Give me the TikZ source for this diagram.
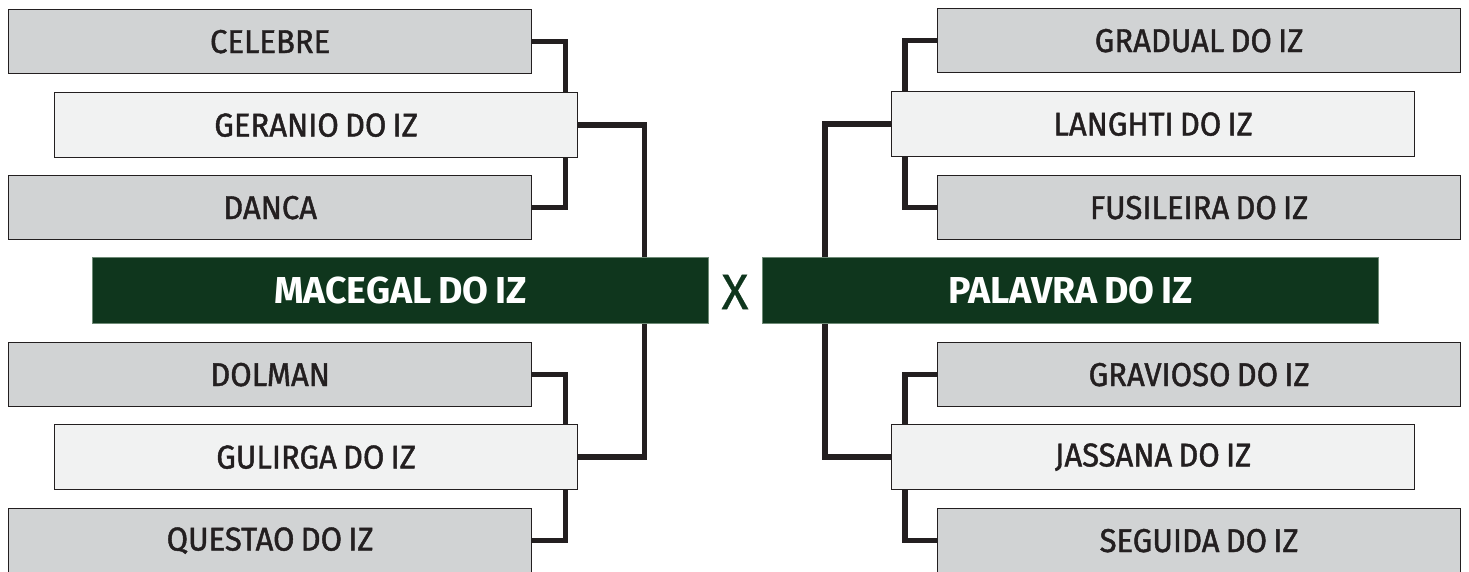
\documentclass[tikz,border=0pt]{standalone}
\usepackage{fontspec}
\setmainfont{Fira Sans}
\newfontfamily\labelfont{Fira Sans}[FakeBold=1.3, FakeStretch=0.94, WordSpace=0.75]
\newfontfamily\versusfont{Fira Sans}[FakeBold=0.6]
\newfontfamily\finalfont{Fira Sans}[WordSpace=0.75]
\usetikzlibrary{backgrounds}
\definecolor{ink}{HTML}{231F20}
\definecolor{boxgray}{HTML}{D1D3D4}
\definecolor{boxlight}{HTML}{F1F2F2}
\definecolor{deepgreen}{HTML}{0F361D}
\definecolor{greenedge}{HTML}{6E8A76}
\begin{document}
\begin{tikzpicture}[x=1pt,y=-1pt,
  basebox/.style={draw=ink, line width=1.3pt, inner sep=0pt, anchor=north west,
    minimum width=523pt, text=ink, font=\labelfont\fontsize{33}{36}\selectfont},
  graybox/.style={basebox, fill=boxgray, minimum height=64pt},
  lightbox/.style={basebox, fill=boxlight, minimum height=65pt},
  finalbox/.style={draw=greenedge, line width=0.8pt, fill=deepgreen, inner sep=0pt, anchor=north west,
    minimum width=616pt, minimum height=66pt, text=white, font=\finalfont\fontsize{37.5}{40}\selectfont\bfseries},
  bracket/.style={draw=ink, line width=5.5pt}]
\useasboundingbox (0,0) rectangle (1469,572);
% left side
\node[graybox]  (celebre)  at (8,9)    {CELEBRE};
\node[lightbox] (geranio)  at (54,92)  {GERANIO DO IZ};
\node[graybox]  (danca)    at (8,175)  {DANCA};
\node[finalbox] (macegal)  at (92,257) {MACEGAL DO IZ};
\node[graybox]  (dolman)   at (8,342)  {DOLMAN};
\node[lightbox] (gulirga)  at (54,424) {GULIRGA DO IZ};
\node[graybox]  (questao)  at (8,508)  {QUESTAO DO IZ};
% right side
\node[graybox]  (gradual)   at (937,8)   {GRADUAL DO IZ};
\node[lightbox] (langhti)   at (891,91)  {LANGHTI DO IZ};
\node[graybox]  (fusileira) at (937,175) {FUSILEIRA DO IZ};
\node[finalbox] (palavra)   at (762,257) {PALAVRA DO IZ};
\node[graybox]  (gravioso)  at (937,342) {GRAVIOSO DO IZ};
\node[lightbox] (jassana)   at (891,424) {JASSANA DO IZ};
\node[graybox]  (seguida)   at (937,508) {SEGUIDA DO IZ};
% versus mark
\node[text=deepgreen, inner sep=0pt, font=\versusfont\fontsize{50}{54}\selectfont] (versus) at (735,292) {X};
% connectors
\begin{scope}[on background layer]
\draw[bracket] (celebre.east) -- ++(33,0) |- (danca.east);
\draw[bracket] (dolman.east) -- ++(33,0) |- (questao.east);
\draw[bracket] (geranio.east) -- ++(66,0) |- (gulirga.east);
\draw[bracket] (gradual.west) -- ++(-32,0) |- (fusileira.west);
\draw[bracket] (gravioso.west) -- ++(-32,0) |- (seguida.west);
\draw[bracket] (langhti.west) -- ++(-66,0) |- (jassana.west);
\end{scope}
\end{tikzpicture}
\end{document}
